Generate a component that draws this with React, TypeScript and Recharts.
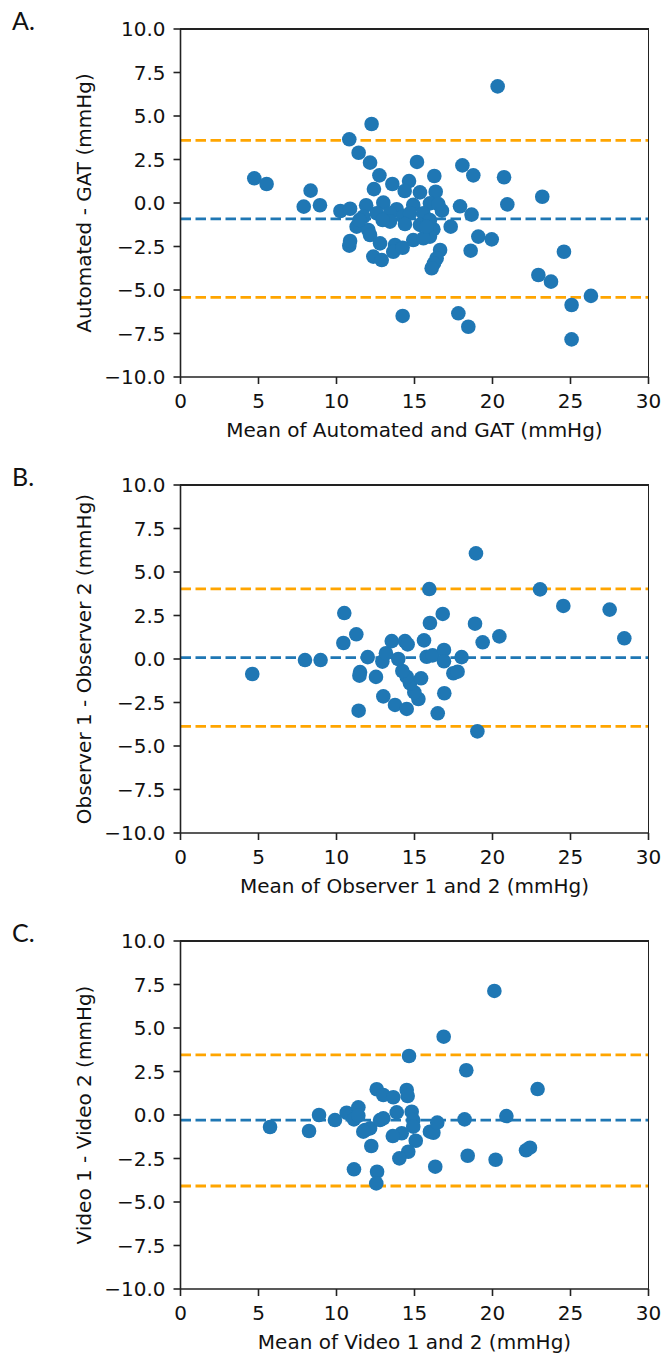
import { ScatterChart, Scatter, XAxis, YAxis, ReferenceLine, Label } from "recharts";

const xTicks = [0, 5, 10, 15, 20, 25, 30];
const yTicks = [-10, -7.5, -5, -2.5, 0, 2.5, 5, 7.5, 10];

// A. Automated vs GAT
const autoX = [
  4.73, 5.52, 8.34, 7.9, 8.94, 10.25, 10.87, 10.82, 12.25, 11.42, 12.15, 12.75, 12.4, 13.58, 14.65,
  14.37, 15.16, 15.35, 16.27, 16.36, 18.07, 18.77, 20.33, 20.74, 20.95, 23.19, 17.92, 18.66, 19.09,
  19.95, 18.6, 17.32, 16.76, 24.58, 22.94, 23.75, 26.31, 25.07, 25.07, 14.24, 17.81, 18.45, 10.82,
  10.87, 11.29, 11.9, 13.0, 13.86, 14.92, 15.99, 16.53, 11.72, 12.58, 13.43, 14.28, 14.71, 15.57,
  13.43, 14.39, 15.35, 12.04, 12.15, 16.21, 15.99, 14.92, 15.57, 12.79, 13.75, 13.64, 14.24, 12.36,
  12.9, 16.64, 16.42, 16.25, 16.1, 11.47, 12.96, 15.99, 15.78,
];
const autoY = [
  1.42, 1.09, 0.71, -0.21, -0.13, -0.46, -0.33, 3.66, 4.54, 2.89, 2.32, 1.59, 0.8, 1.09, 1.26,
  0.69, 2.36, 0.61, 1.55, 0.65, 2.16, 1.59, 6.7, 1.48, -0.08, 0.36, -0.19, -0.67, -1.93,
  -2.09, -2.74, -1.36, -0.44, -2.8, -4.14, -4.52, -5.34, -5.86, -7.84, -6.49, -6.34, -7.11, -2.45,
  -2.18, -1.36, -0.13, 0.02, -0.36, -0.11, -0.02, -0.06, -0.79, -0.59, -0.59, -0.79, -0.59, -0.59,
  -1.07, -1.21, -1.26, -1.55, -1.84, -1.51, -1.93, -2.13, -2.03, -2.32, -2.41, -2.8, -2.57, -3.08,
  -3.28, -2.7, -3.18, -3.47, -3.75, -0.98, -0.98, -0.98, -1.36,
];
const autoLines = [-0.91, 3.6, -5.42]; // mean, upper, lower

// B. Observer 1 vs Observer 2
const obsX = [
  4.6, 7.98, 8.98, 10.5, 11.27, 10.44, 12.0, 11.51, 11.47, 12.53, 11.42, 13.0, 13.75, 14.5, 15.25,
  14.99, 14.71, 14.5, 14.22, 15.42, 13.96, 12.94, 13.17, 13.54, 14.39, 14.56, 15.61, 15.99, 15.95,
  16.81, 15.78, 16.16, 16.89, 16.89, 17.49, 17.76, 16.91, 16.49, 18.02, 18.88, 18.94, 19.37, 19.03,
  20.44, 23.05, 24.54, 27.51, 28.45,
];
const obsY = [
  -0.86, -0.06, -0.06, 2.64, 1.42, 0.92, 0.11, -0.75, -0.96, -1.03, -2.97, -2.15, -2.64, -2.87, -2.3,
  -1.92, -1.4, -1.02, -0.69, -1.11, 0.0, -0.15, 0.33, 1.03, 1.03, 0.84, 1.07, 2.07, 4.02,
  2.59, 0.13, 0.21, 0.52, -0.13, -0.82, -0.73, -1.97, -3.12, 0.11, 2.03, 6.07, 0.96, -4.16,
  1.3, 4.0, 3.05, 2.84, 1.19,
];
const obsLines = [0.08, 4.03, -3.87];

// C. Video 1 vs Video 2
const vidX = [
  5.74, 8.24, 8.88, 9.9, 10.65, 11.4, 11.12, 11.12, 11.83, 12.15, 12.23, 12.58, 13.0, 13.64, 12.79,
  13.0, 13.86, 14.5, 14.56, 14.82, 14.92, 14.92, 14.18, 13.61, 15.08, 14.6, 14.03, 12.6, 12.55,
  14.65, 15.99, 16.21, 16.46, 16.33, 16.87, 18.21, 18.32, 18.41, 20.12, 20.2, 20.89, 22.15, 22.4,
  22.89, 11.4, 11.72,
];
const vidY = [
  -0.69, -0.92, 0.0, -0.29, 0.13, 0.44, -0.25, -3.12, -0.86, -0.77, -1.78, 1.48, 1.15, 1.02, -0.29,
  -0.19, 0.15, 1.44, 1.09, 0.19, -0.29, -0.67, -1.05, -1.21, -1.48, -2.11, -2.49, -3.26, -3.93,
  3.39, -0.96, -1.02, -0.44, -2.97, 4.5, -0.25, 2.57, -2.34, 7.13, -2.57, -0.06, -2.03, -1.88,
  1.49, -0.04, -0.96,
];
const vidLines = [-0.3, 3.45, -4.08];

const BLUE = "#1f77b4";
const ORANGE = "#ffa500";
const INK = "#111";
const SPINE = "#222";
const FRAME = { stroke: SPINE, strokeWidth: 1.6 };

const fmtY = (v: number) => v.toFixed(1).replace("-", "\u2212");

const Dot = (props: any) => <circle cx={props.cx} cy={props.cy} r={7.3} fill={BLUE} />;

interface PanelProps {
  letter: string;
  top: number;
  xLabel: string;
  yLabel: string;
  xs: number[];
  ys: number[];
  lines: number[];
}

function Panel({ letter, top, xLabel, yLabel, xs, ys, lines }: PanelProps) {
  const points = xs.map((x, i) => ({ x, y: ys[i] }));
  const [mean, upper, lower] = lines;
  return (
    <div style={{ position: "absolute", left: 0, top, width: 666, height: 445 }}>
      <div
        style={{
          position: "absolute",
          left: 12,
          top: 8,
          fontFamily: "Lato",
          fontSize: 25,
          lineHeight: 1,
          color: INK,
        }}
      >
        {letter}
      </div>
      <ScatterChart width={666} height={445} margin={{ top: 29, right: 17.5, left: 0, bottom: 8 }}>
        <XAxis
          type="number"
          dataKey="x"
          domain={[0, 30]}
          ticks={xTicks}
          interval={0}
          height={60}
          tickSize={7}
          tickMargin={10}
          axisLine={FRAME}
          tickLine={FRAME}
          tick={{ fill: INK, fontSize: 20 }}
        >
          <Label value={xLabel} position="insideBottom" offset={0} fill={INK} fontSize={20} />
        </XAxis>
        <YAxis
          type="number"
          dataKey="y"
          domain={[-10, 10]}
          ticks={yTicks}
          interval={0}
          width={180.5}
          tickSize={7}
          tickMargin={8}
          tickFormatter={fmtY}
          axisLine={FRAME}
          tickLine={FRAME}
          tick={{ fill: INK, fontSize: 20 }}
        >
          <Label
            value={yLabel}
            angle={-90}
            position="insideLeft"
            offset={84}
            fill={INK}
            fontSize={20}
            style={{ textAnchor: "middle" }}
          />
        </YAxis>
        <ReferenceLine y={upper} stroke={ORANGE} strokeWidth={2.8} strokeDasharray="10.5 4.5" />
        <ReferenceLine y={mean} stroke={BLUE} strokeWidth={2.8} strokeDasharray="10.5 4.5" />
        <ReferenceLine y={lower} stroke={ORANGE} strokeWidth={2.8} strokeDasharray="10.5 4.5" />
        <Scatter data={points} fill={BLUE} shape={Dot} isAnimationActive={false} />
      </ScatterChart>
      {/* top and right spines */}
      <div
        style={{
          position: "absolute",
          left: 179.7,
          top: 28.2,
          width: 469.6,
          height: 1.6,
          background: SPINE,
          zIndex: 5,
        }}
      />
      <div
        style={{
          position: "absolute",
          left: 647.7,
          top: 28.2,
          width: 1.6,
          height: 349.6,
          background: SPINE,
          zIndex: 5,
        }}
      />
    </div>
  );
}

export default function App() {
  return (
    <div
      style={{
        position: "absolute",
        left: 0,
        top: 0,
        width: 666,
        height: 1357,
        background: "#fff",
        fontFamily: "DejaVu Sans",
        overflow: "hidden",
      }}
    >
      <Panel
        letter="A."
        top={0}
        xLabel="Mean of Automated and GAT (mmHg)"
        yLabel="Automated - GAT (mmHg)"
        xs={autoX}
        ys={autoY}
        lines={autoLines}
      />
      <Panel
        letter="B."
        top={456}
        xLabel="Mean of Observer 1 and 2 (mmHg)"
        yLabel="Observer 1 - Observer 2 (mmHg)"
        xs={obsX}
        ys={obsY}
        lines={obsLines}
      />
      <Panel
        letter="C."
        top={912}
        xLabel="Mean of Video 1 and 2 (mmHg)"
        yLabel="Video 1 - Video 2 (mmHg)"
        xs={vidX}
        ys={vidY}
        lines={vidLines}
      />
    </div>
  );
}
